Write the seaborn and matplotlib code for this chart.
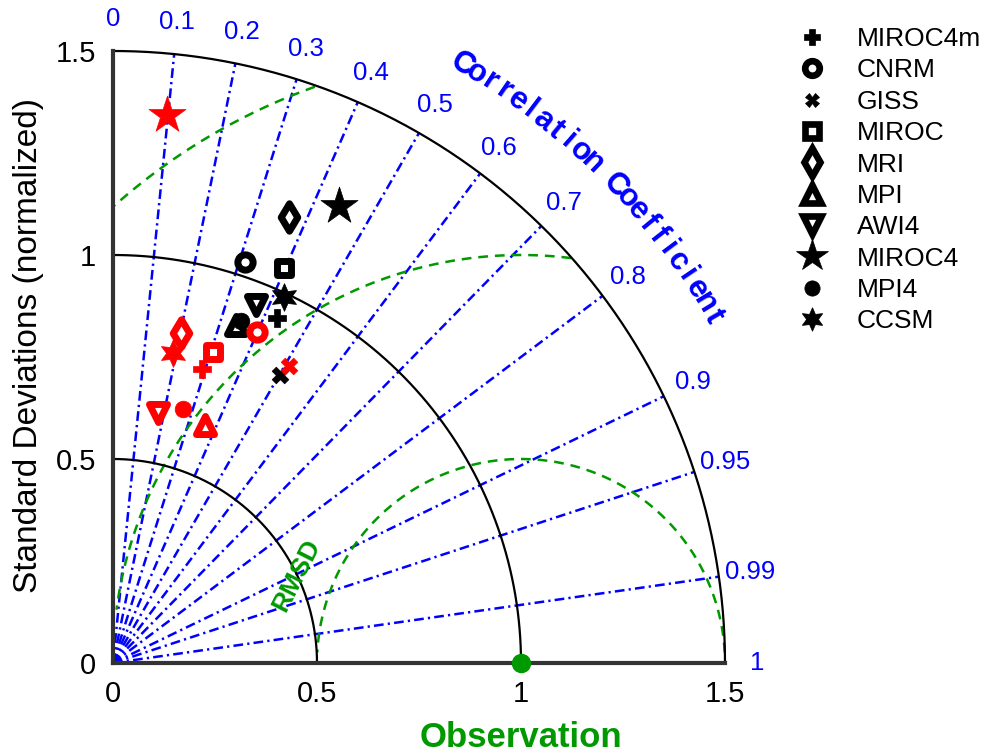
import numpy as np
import pandas as pd
import matplotlib
matplotlib.use("Agg")
import matplotlib.pyplot as plt
from matplotlib.lines import Line2D
import seaborn as sns

# ---- data -------------------------------------------------------------
models = ["MIROC4m", "CNRM", "GISS", "MIROC", "MRI",
          "MPI", "AWI4", "MIROC4", "MPI4", "CCSM"]

# normalized standard deviation and correlation, first experiment (black)
std_black = [0.935, 1.034, 0.816, 1.054, 1.176, 0.881, 0.944, 1.250, 0.895, 0.991]
corr_black = [0.429, 0.314, 0.501, 0.398, 0.367, 0.342, 0.371, 0.444, 0.351, 0.424]

# second experiment (red)
std_red = [0.753, 0.885, 0.847, 0.802, 0.825, 0.625, 0.622, 1.349, 0.647, 0.773]
corr_red = [0.291, 0.400, 0.510, 0.307, 0.202, 0.359, 0.178, 0.098, 0.266, 0.191]

corr_ticks = [0.0, 0.1, 0.2, 0.3, 0.4, 0.5, 0.6, 0.7, 0.8, 0.9, 0.95, 0.99, 1.0]
corr_tick_labels = ["0", "0.1", "0.2", "0.3", "0.4", "0.5", "0.6", "0.7",
                    "0.8", "0.9", "0.95", "0.99", "1"]
std_ticks = [0.0, 0.5, 1.0, 1.5]
std_tick_labels = ["0", "0.5", "1", "1.5"]
std_arcs = [0.5, 1.0, 1.5]
rmsd_levels = [0.5, 1.0, 1.5]
obs_std = 1.0

# marker, size (pt), hollow?, edge width
styles = {
    "MIROC4m": ("P", 12.5, False, 0.5),
    "CNRM":    ("o", 11, True, 5.0),
    "GISS":    ("X", 12, False, 0.5),
    "MIROC":   ("s", 9.5, True, 5.0),
    "MRI":     ("d", 14, True, 5.0),
    "MPI":     ("^", 13, True, 5.0),
    "AWI4":    ("v", 13, True, 5.0),
    "MIROC4":  ("*", 28, False, 0.5),
    "MPI4":    ("o", 12, False, 0.5),
    "CCSM":    ((6, 1, 0), 20, False, 0.5),
}

BLUE = "#0000ff"
GREEN = "#009900"
RED = "#ff0000"

sns.set_theme(style="white")
plt.rcParams["font.family"] = ["Liberation Sans", "DejaVu Sans"]
plt.rcParams["text.color"] = "black"
plt.rcParams["lines.scale_dashes"] = False

W, H = 985, 755
fig = plt.figure(figsize=(W / 100, H / 100), dpi=100)
ax = fig.add_axes([113 / W, (H - 663) / H, 612 / W, 612 / H])
ax.set_xlim(0, 1.5)
ax.set_ylim(0, 1.5)
ax.set_aspect("equal")

# ---- correlation rays --------------------------------------------------
for c in corr_ticks[1:-1]:
    th = np.arccos(c)
    ax.plot([0, 1.5 * np.cos(th)], [0, 1.5 * np.sin(th)], color=BLUE, lw=1.8,
            dashes=(7, 3, 1.6, 3), clip_on=False, zorder=1)

# ---- RMSD contours around the reference point --------------------------
for R in rmsd_levels:
    phi = np.linspace(0, np.pi, 600)
    x = obs_std + R * np.cos(phi)
    y = R * np.sin(phi)
    keep = (np.hypot(x, y) <= 1.5) & (x >= 0) & (y >= 0.025)
    if R == 1.0:
        keep &= y >= 0.13
    ax.plot(np.where(keep, x, np.nan), np.where(keep, y, np.nan),
            color=GREEN, lw=1.8, dashes=(7, 5), clip_on=False, zorder=1)

# ---- standard deviation arcs -------------------------------------------
th = np.linspace(0, np.pi / 2, 300)
for r in std_arcs:
    ax.plot(r * np.cos(th), r * np.sin(th), color="black", lw=1.6,
            clip_on=False, zorder=2)

# ---- model points -------------------------------------------------------
def draw_set(stds, corrs, color, z):
    for name, s, c in zip(models, stds, corrs):
        m, ms, hollow, mew = styles[name]
        df = pd.DataFrame({"x": [s * c], "y": [s * np.sqrt(1 - c ** 2)]})
        sns.scatterplot(data=df, x="x", y="y", ax=ax, marker=m, s=ms ** 2,
                        color="white" if hollow else color, edgecolor=color,
                        linewidth=mew, clip_on=False, zorder=z, legend=False)

draw_set(std_black, corr_black, "black", 5)
draw_set(std_red, corr_red, RED, 6)

# reference point
ax.plot([obs_std], [0], "o", color=GREEN, ms=13, clip_on=False, zorder=7)

# ---- axes dressing -------------------------------------------------------
for side in ("top", "right"):
    ax.spines[side].set_visible(False)
for side in ("left", "bottom"):
    ax.spines[side].set_linewidth(3)
    ax.spines[side].set_color("#333333")
    ax.spines[side].set_zorder(3)

ax.set_xticks(std_ticks, std_tick_labels)
ax.set_yticks(std_ticks, std_tick_labels)
ax.tick_params(axis="both", length=0, labelsize=21, colors="black")
ax.tick_params(axis="x", pad=12)
ax.tick_params(axis="y", pad=12)
ax.grid(False)

ax.set_ylabel("Standard Deviations (normalized)", fontsize=24, color="black")
ax.yaxis.set_label_coords(-0.138, 0.518)
ax.yaxis.label.set_va("center")

ax.set_xlabel("Observation", fontsize=25, fontweight="bold", color=GREEN)
ax.xaxis.set_label_coords(obs_std / 1.5, -0.121)
ax.xaxis.label.set_va("center")

# correlation tick labels along the outer arc
for c, lab in zip(corr_ticks, corr_tick_labels):
    t = np.arccos(c)
    ax.text(1.578 * np.cos(t), 1.578 * np.sin(t), lab, color=BLUE, fontsize=18.5,
            ha="center", va="center", clip_on=False)

# curved axis title
title = "Correlation Coefficient"
angs = np.linspace(np.radians(59.7), np.radians(30.0), len(title))
for ch, a in zip(title, angs):
    ax.text(1.698 * np.cos(a), 1.698 * np.sin(a), ch, color=BLUE, fontsize=22.5,
            fontweight="bold", rotation=np.degrees(a) - 90,
            rotation_mode="anchor", ha="center", va="center", clip_on=False)

ax.text(0.451, 0.216, "RMSD", color=GREEN, fontsize=19, fontweight="bold",
        rotation=63, ha="center", va="center", zorder=4)

# ---- legend -------------------------------------------------------------
leg_sizes = {"MIROC4m": 11, "CNRM": 10.5, "GISS": 10, "MIROC": 9.5, "MRI": 14,
             "MPI": 12.5, "AWI4": 12.5, "MIROC4": 24, "MPI4": 11, "CCSM": 17}
handles = []
for name in models:
    m, ms, hollow, mew = styles[name]
    handles.append(Line2D([], [], linestyle="None", marker=m,
                          markersize=leg_sizes[name],
                          markerfacecolor="white" if hollow else "black",
                          markeredgecolor="black",
                          markeredgewidth=4.8 if hollow else 0.5))
fig.legend(handles, models, loc="upper left", bbox_to_anchor=(799 / W, 1 - 27 / H),
           frameon=False, fontsize=19, handlelength=1.0, handletextpad=1.2,
           labelspacing=0.28, borderpad=0, borderaxespad=0, labelcolor="black")

fig.savefig("out.png", dpi=100)
